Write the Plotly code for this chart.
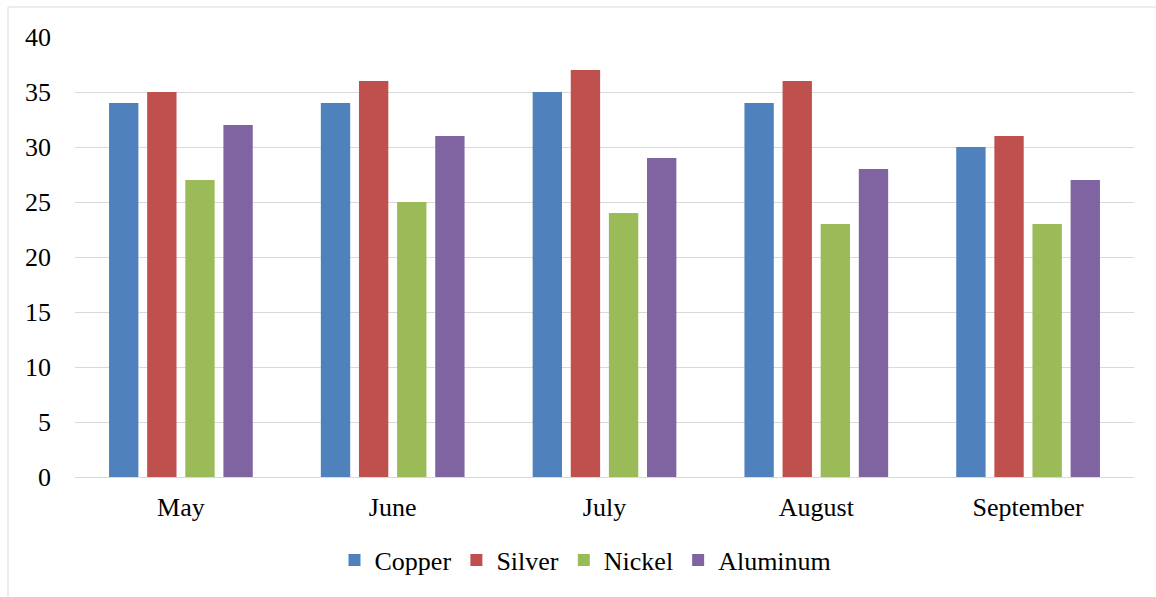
import plotly.graph_objects as go

months = ["May", "June", "July", "August", "September"]
copper = [34, 34, 35, 34, 30]
silver = [35, 36, 37, 36, 31]
nickel = [27, 25, 24, 23, 23]
aluminum = [32, 31, 29, 28, 27]

series = [
    ("Copper", copper, "#4F81BD"),
    ("Silver", silver, "#C0504D"),
    ("Nickel", nickel, "#9BBB59"),
    ("Aluminum", aluminum, "#8064A2"),
]

FONT = "Liberation Serif"
TXT = dict(family=FONT, size=26, color="black")

fig = go.Figure()
for name, vals, color in series:
    fig.add_trace(go.Bar(x=months, y=vals, name=name, marker_color=color,
                         marker_line_width=0))

W, H = 1156, 597
L, R, T, B = 75, 22, 37, 120
pw, ph = W - L - R, H - T - B

# outer frame of the chart
fig.add_shape(type="rect", xref="paper", yref="paper",
              x0=(8 - L) / pw, x1=(W + 20 - L) / pw,
              y0=-(H + 20 - T - ph) / ph, y1=(H - B - 7) / ph,
              line=dict(color="#d9d9d9", width=1), fillcolor="rgba(0,0,0,0)",
              layer="below")

fig.update_layout(
    width=W, height=H,
    margin=dict(l=L, r=R, t=T, b=B),
    paper_bgcolor="white", plot_bgcolor="white",
    barmode="group", bargap=0.28, bargroupgap=0.23,
    font=TXT,
    showlegend=True,
    legend=dict(orientation="h", x=(585.5 - L) / pw, xanchor="center",
                y=(H - B - 560) / ph, yanchor="middle",
                font=TXT, itemwidth=30, traceorder="normal"),
)
fig.update_yaxes(range=[0, 40], dtick=5, showgrid=True, gridcolor="#d9d9d9",
                 gridwidth=1, zeroline=True, zerolinecolor="#d9d9d9",
                 zerolinewidth=1, showline=False, ticks="",
                 tickfont=TXT, ticklabelstandoff=23, fixedrange=True)
fig.update_xaxes(showgrid=False, showline=False, ticks="", tickfont=TXT,
                 ticklabelstandoff=12, fixedrange=True)

fig.write_html("out.html")
